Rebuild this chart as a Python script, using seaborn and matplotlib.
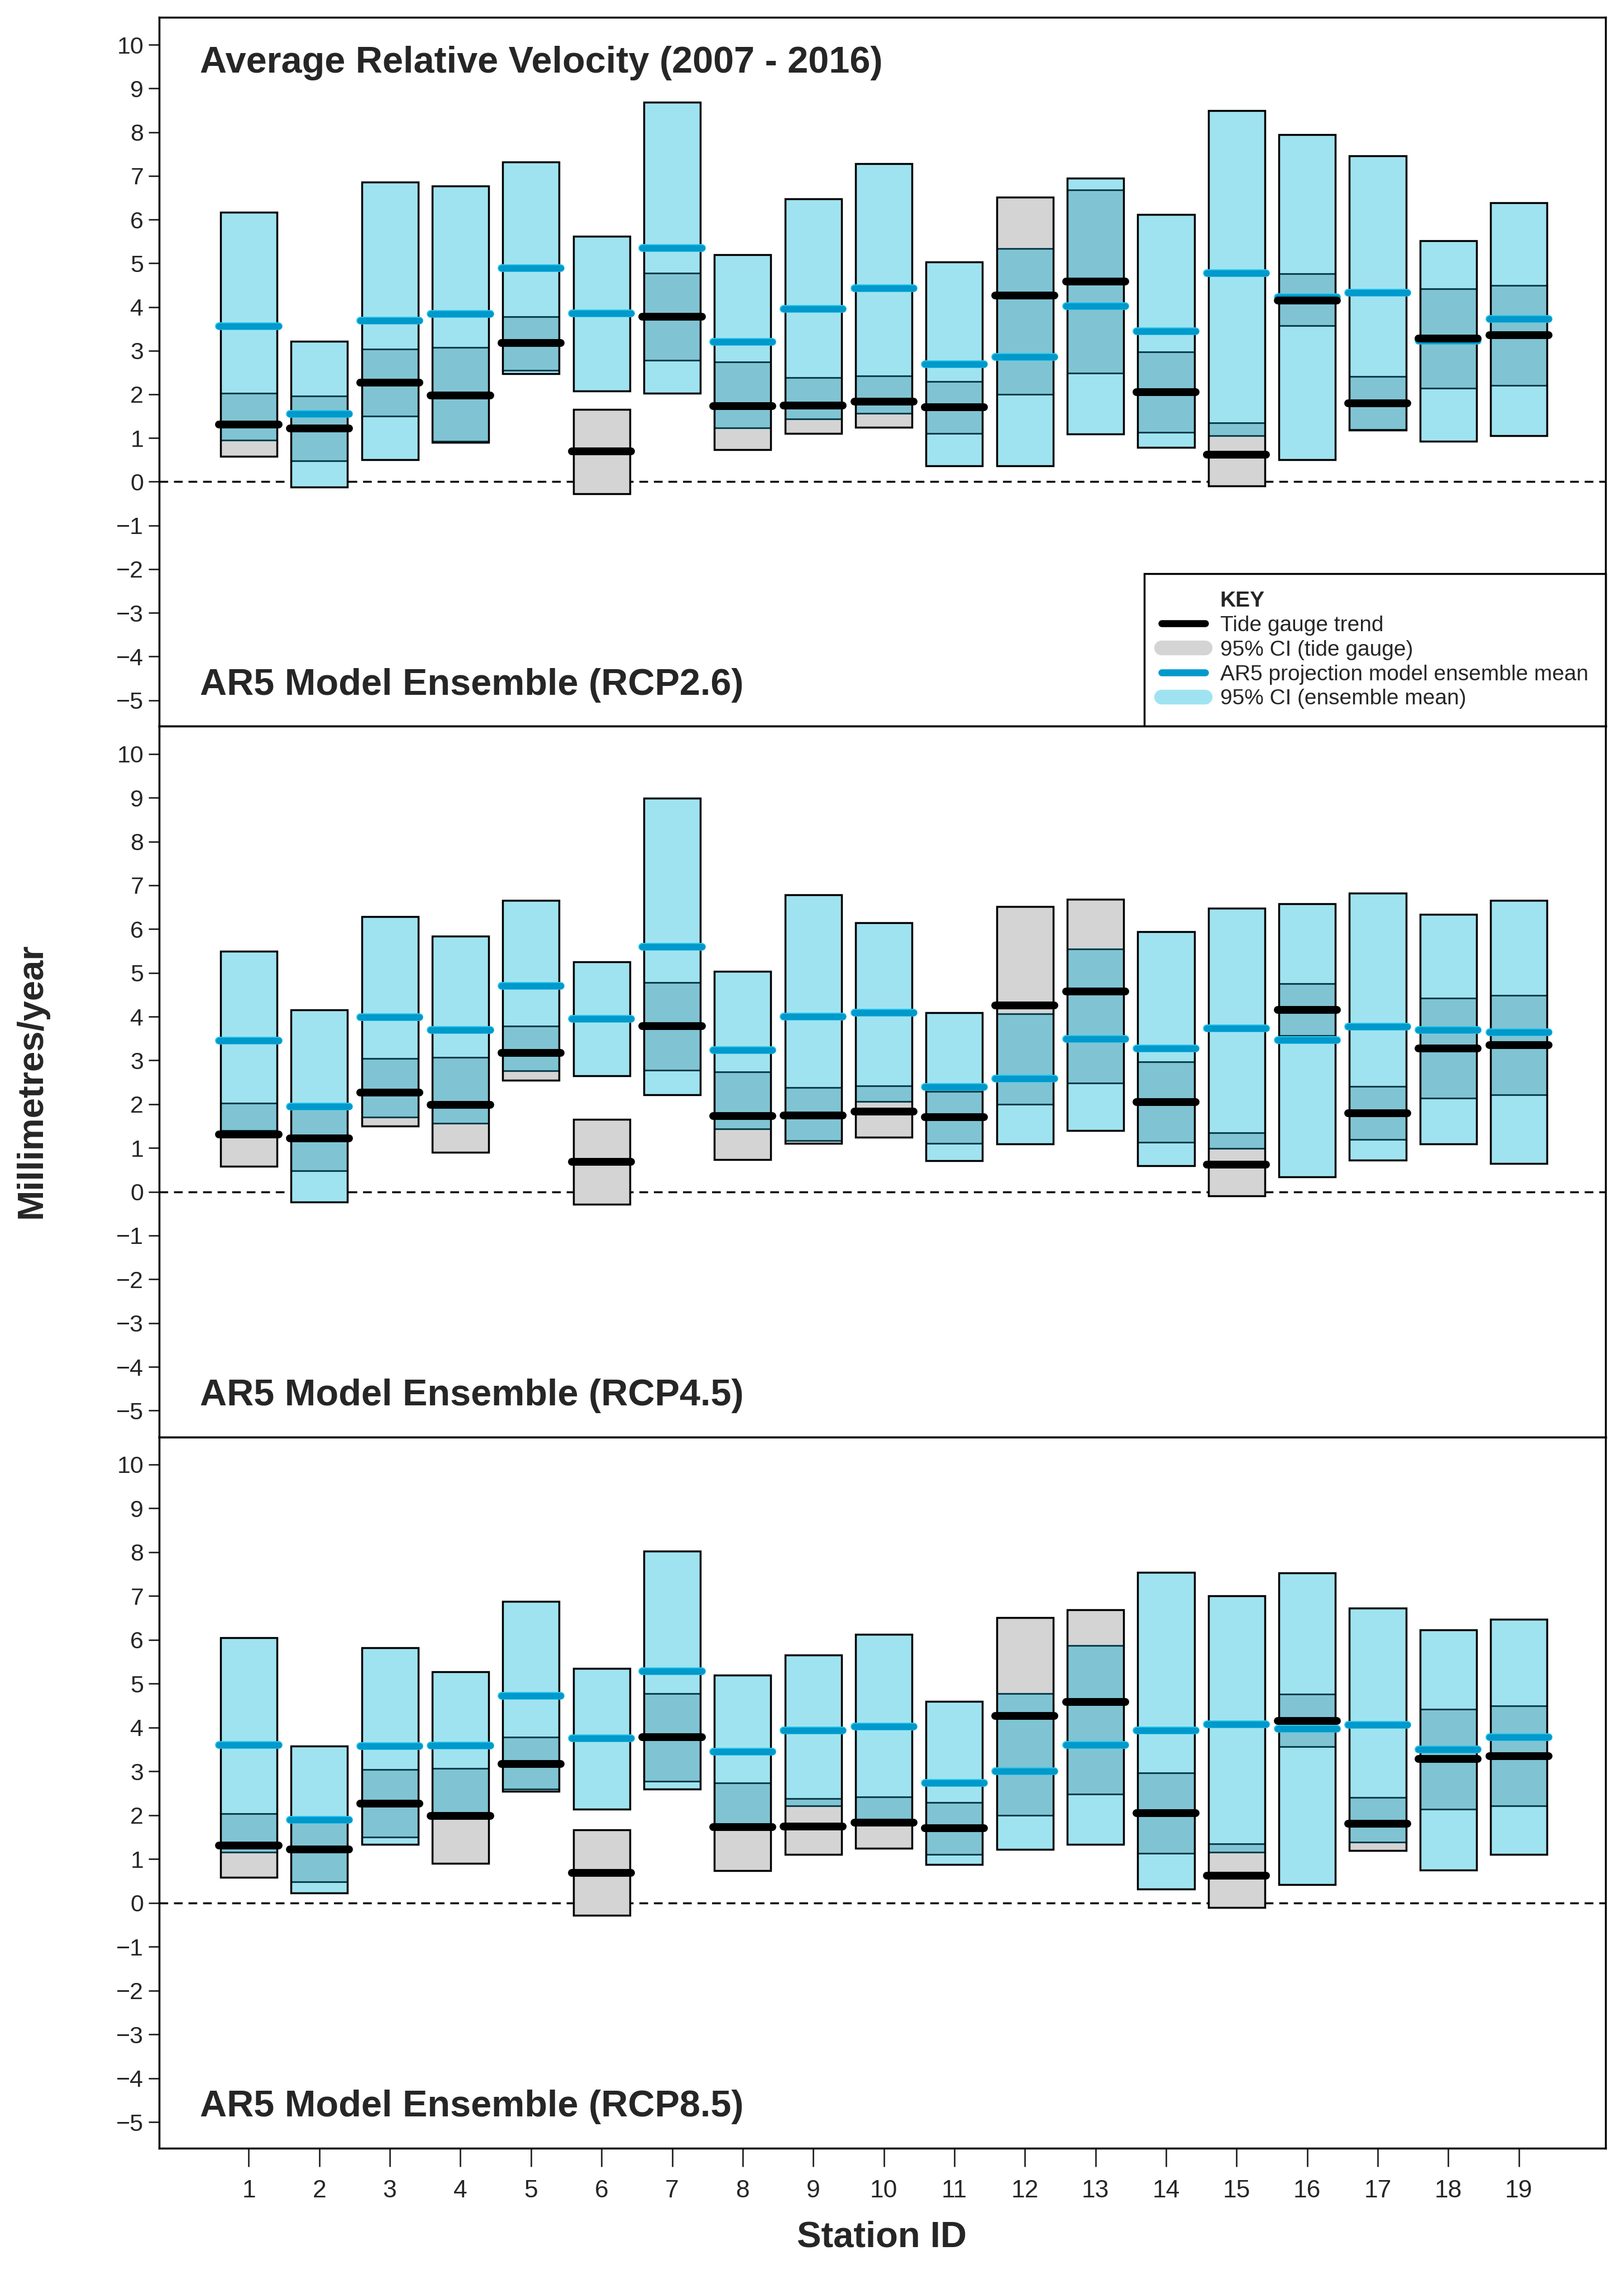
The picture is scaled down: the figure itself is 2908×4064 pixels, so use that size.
import numpy as np
import pandas as pd
import matplotlib
matplotlib.use("Agg")
import matplotlib.pyplot as plt
import matplotlib.patheffects as pe
from matplotlib.lines import Line2D
import seaborn as sns

# station ids
stations = list(range(1, 20))

# tide gauge trend and its 95% CI (same in every panel)
tg_trend = [1.31, 1.22, 2.27, 1.98, 3.17, 0.69, 3.78, 1.73, 1.74, 1.83,
            1.70, 4.26, 4.58, 2.05, 0.62, 4.15, 1.80, 3.28, 3.35]
tg_lo = [0.58, 0.48, 1.50, 0.90, 2.55, -0.28, 2.78, 0.73, 1.11, 1.24,
         1.10, 2.00, 2.48, 1.13, -0.10, 3.57, 1.20, 2.14, 2.21]
tg_hi = [2.03, 1.96, 3.04, 3.07, 3.78, 1.66, 4.78, 2.74, 2.38, 2.42,
         2.29, 6.51, 6.68, 2.97, 1.35, 4.76, 2.41, 4.42, 4.49]

# AR5 ensemble mean and 95% CI, RCP2.6
rcp26_mean = [3.56, 1.55, 3.69, 3.84, 4.89, 3.85, 5.35, 3.20, 3.95, 4.43,
              2.69, 2.85, 4.02, 3.44, 4.78, 4.22, 4.32, 3.23, 3.72]
rcp26_lo = [0.95, -0.12, 0.51, 0.92, 2.47, 2.08, 2.03, 1.23, 1.44, 1.57,
            0.36, 0.36, 1.09, 0.78, 1.05, 0.51, 1.18, 0.93, 1.06]
rcp26_hi = [6.17, 3.22, 6.86, 6.77, 7.32, 5.62, 8.68, 5.19, 6.47, 7.28,
            5.03, 5.33, 6.95, 6.12, 8.50, 7.94, 7.46, 5.52, 6.38]

# RCP4.5
rcp45_mean = [3.45, 1.95, 3.99, 3.69, 4.70, 3.95, 5.60, 3.23, 4.00, 4.09,
              2.39, 2.58, 3.49, 3.28, 3.73, 3.46, 3.77, 3.70, 3.64]
rcp45_lo = [1.40, -0.24, 1.70, 1.57, 2.77, 2.65, 2.21, 1.44, 1.17, 2.06,
            0.71, 1.09, 1.40, 0.60, 0.99, 0.34, 0.72, 1.09, 0.64]
rcp45_hi = [5.49, 4.16, 6.28, 5.84, 6.65, 5.25, 8.99, 5.03, 6.78, 6.14,
            4.09, 4.07, 5.55, 5.94, 6.48, 6.58, 6.82, 6.33, 6.65]

# RCP8.5
rcp85_mean = [3.60, 1.89, 3.58, 3.59, 4.73, 3.75, 5.29, 3.45, 3.94, 4.02,
              2.74, 3.00, 3.60, 3.93, 4.07, 3.97, 4.06, 3.50, 3.78]
rcp85_lo = [1.15, 0.22, 1.34, 1.98, 2.60, 2.14, 2.60, 1.73, 2.21, 1.85,
            0.88, 1.22, 1.33, 0.31, 1.16, 0.42, 1.39, 0.75, 1.10]
rcp85_hi = [6.05, 3.58, 5.82, 5.27, 6.88, 5.35, 8.02, 5.19, 5.65, 6.13,
            4.60, 4.78, 5.87, 7.54, 7.01, 7.53, 6.72, 6.23, 6.47]

sns.set_theme(style="ticks")
plt.rcParams['font.family'] = ['Liberation Sans', 'DejaVu Sans']

C_GREY = "#d4d4d4"
C_CYAN = "#a0e3f0"
C_OVER = "#80c4d4"
C_BLUE = "#0099cc"
C_EDGE = "#0b3f4c"
W = 0.8
LW_BOX = 2.5


def draw_panel(ax, lo, hi, mean, label, title=None):
    df = pd.DataFrame({"x": stations, "tg": tg_trend, "tg_lo": tg_lo, "tg_hi": tg_hi,
                       "lo": lo, "hi": hi, "mean": mean})
    df["ov_lo"] = df[["lo", "tg_lo"]].max(axis=1)
    df["ov_hi"] = df[["hi", "tg_hi"]].min(axis=1)
    ov = df[df["ov_hi"] > df["ov_lo"]]
    no = df[df["ov_hi"] <= df["ov_lo"]]

    ax.bar(df["x"], df["tg_hi"] - df["tg_lo"], bottom=df["tg_lo"], width=W, color=C_GREY, lw=0, zorder=2)
    ax.bar(df["x"], df["hi"] - df["lo"], bottom=df["lo"], width=W, color=C_CYAN, lw=0, zorder=2)
    ax.bar(ov["x"], ov["ov_hi"] - ov["ov_lo"], bottom=ov["ov_lo"], width=W, color=C_OVER, lw=0, zorder=3)
    ax.hlines(ov["ov_lo"], ov["x"] - W / 2, ov["x"] + W / 2, color=C_EDGE, lw=2.2, zorder=4)
    ax.hlines(ov["ov_hi"], ov["x"] - W / 2, ov["x"] + W / 2, color=C_EDGE, lw=2.2, zorder=4)

    # outlines: union when the two CIs overlap, separate boxes otherwise
    umin = ov[["lo", "tg_lo"]].min(axis=1)
    umax = ov[["hi", "tg_hi"]].max(axis=1)
    ax.bar(ov["x"], umax - umin, bottom=umin, width=W, fill=False, edgecolor="black", lw=LW_BOX, zorder=5)
    ax.bar(no["x"], no["tg_hi"] - no["tg_lo"], bottom=no["tg_lo"], width=W, fill=False,
           edgecolor="black", lw=LW_BOX, zorder=5)
    ax.bar(no["x"], no["hi"] - no["lo"], bottom=no["lo"], width=W, fill=False,
           edgecolor="black", lw=LW_BOX, zorder=5)

    ax.axhline(0, color="black", lw=2.5, ls=(0, (4.5, 3)), zorder=1)

    ax.hlines(df["mean"], df["x"] - 0.42, df["x"] + 0.42, color=C_BLUE, lw=8, capstyle="round", zorder=6,
              path_effects=[pe.Stroke(linewidth=10, foreground="#2cc6ea", capstyle="round"), pe.Normal()])
    ax.hlines(df["tg"], df["x"] - 0.42, df["x"] + 0.42, color="black", lw=10, capstyle="round", zorder=7)

    ax.set_xlim(-0.27, 20.23)
    ax.set_ylim(-5.6, 10.63)
    ax.set_yticks(range(-5, 11))
    ax.tick_params(axis="y", direction="out", length=14, width=2, labelsize=31, pad=6, left=True)
    for s in ax.spines.values():
        s.set_visible(True)
        s.set_color("black")
        s.set_linewidth(2.5)
    ax.text(0.028, 0.058, label, transform=ax.transAxes, fontsize=48, fontweight="bold", va="center")
    if title:
        ax.text(0.028, 0.935, title, transform=ax.transAxes, fontsize=48, fontweight="bold", va="center")


fig = plt.figure(figsize=(29.08, 40.64), dpi=100)
ax1 = fig.add_axes([0.098, 0.680, 0.8907, 0.3124])
ax2 = fig.add_axes([0.098, 0.367, 0.8907, 0.313])
ax3 = fig.add_axes([0.098, 0.0536, 0.8907, 0.3134])

draw_panel(ax1, rcp26_lo, rcp26_hi, rcp26_mean, "AR5 Model Ensemble (RCP2.6)",
           title="Average Relative Velocity (2007 - 2016)")
draw_panel(ax2, rcp45_lo, rcp45_hi, rcp45_mean, "AR5 Model Ensemble (RCP4.5)")
draw_panel(ax3, rcp85_lo, rcp85_hi, rcp85_mean, "AR5 Model Ensemble (RCP8.5)")

for ax in (ax1, ax2):
    ax.set_xticks([])
ax3.set_xticks(stations)
ax3.set_xticklabels([str(s) for s in stations])
ax3.tick_params(axis="x", direction="out", length=24, width=2, labelsize=32, pad=16, bottom=True)

# legend
handles = [Line2D([], [], color="none"),
           Line2D([], [], color="black", lw=9, solid_capstyle="round"),
           Line2D([], [], color=C_GREY, lw=19, solid_capstyle="round"),
           Line2D([], [], color=C_BLUE, lw=9, solid_capstyle="round"),
           Line2D([], [], color=C_CYAN, lw=19, solid_capstyle="round")]
labels = ["KEY", "Tide gauge trend", "95% CI (tide gauge)",
          "AR5 projection model ensemble mean", "95% CI (ensemble mean)"]
leg = ax1.legend(handles, labels, loc="lower right", bbox_to_anchor=(1.0, 0.0), frameon=True,
                 fancybox=False, framealpha=1, edgecolor="black", borderaxespad=0,
                 fontsize=28, handlelength=2.0, labelspacing=0.2, borderpad=0.8, handletextpad=0.7)
leg.get_frame().set_linewidth(2.5)
leg.get_texts()[0].set_fontweight("bold")
leg.set_zorder(10)

fig.text(0.0196, 0.524, "Millimetres/year", rotation=90, fontsize=47, fontweight="bold",
         ha="center", va="center")
fig.text(0.543, 0.0143, "Station ID", fontsize=47, fontweight="bold", ha="center", va="center")

fig.savefig("out.png", dpi=100, facecolor="white")
